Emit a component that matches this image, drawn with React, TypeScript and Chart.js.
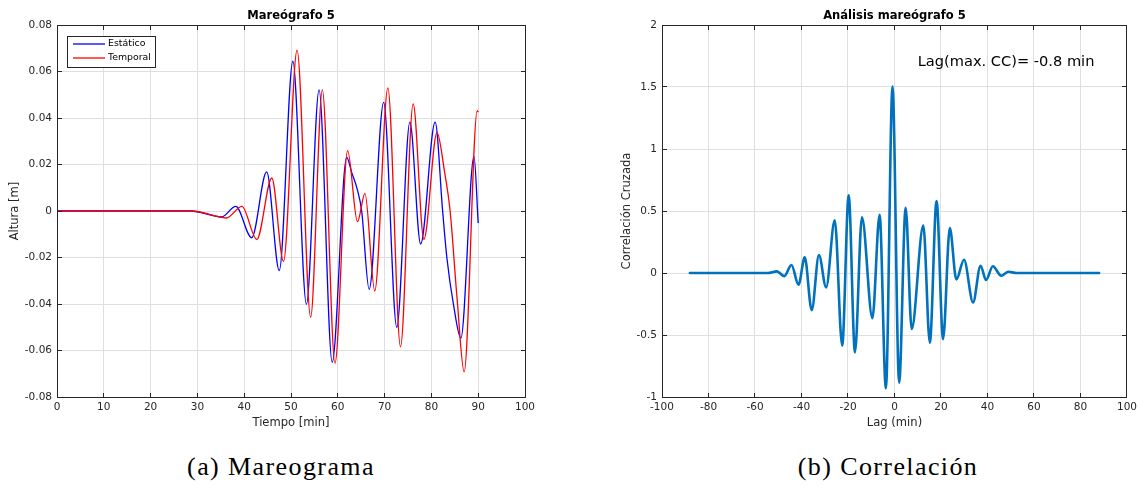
import React, { useEffect, useRef } from "react";
import { Chart, registerables } from "chart.js";

Chart.register(...registerables);

// ---------- Data ----------
// Left panel: Mareógrafo 5
const estaticoT = [0, 28.5, 35.2, 38.2, 41.6, 44.8, 47.5, 50.4, 53.3, 56.0, 58.8, 61.9, 63.0, 64.2, 65.1, 66.7, 69.8, 72.6, 75.4, 77.7, 80.8, 82.4, 83.3, 84.7, 86.3, 89.1, 90.0];
const estaticoV = [0, 0, -0.0025, 0.002, -0.0115, 0.0168, -0.0256, 0.0644, -0.0401, 0.0521, -0.0651, 0.0231, 0.0164, 0.009, 0.0, -0.0337, 0.0467, -0.05, 0.0382, -0.0142, 0.0382, 0.0, -0.02, -0.04, -0.0547, 0.0235, -0.0052];

const temporalT = [0, 29.0, 36.2, 39.5, 42.7, 45.9, 48.4, 51.3, 54.2, 56.7, 59.4, 62.1, 64.2, 65.8, 67.9, 70.7, 73.4, 76.1, 78.4, 81.2, 82.8, 84.0, 85.5, 87.0, 89.8, 90.0];
const temporalV = [0, 0, -0.003, 0.002, -0.0122, 0.0142, -0.0217, 0.0692, -0.0457, 0.0521, -0.0655, 0.026, -0.0046, 0.0076, -0.0344, 0.053, -0.0584, 0.0461, -0.0122, 0.0337, 0.017, 0.0, -0.038, -0.0692, 0.0432, 0.0425];

const seriesNames = ["Estático", "Temporal"];

// Right panel: Análisis mareógrafo 5 (cross-correlation)
const lagT = [-88, -54.5, -50.6, -47.4, -44.3, -41.3, -38.6, -35.6, -32.5, -29.4, -25.7, -22.5, -19.7, -17.0, -14.0, -9.5, -6.4, -3.7, -0.85, 2.0, 4.8, 7.4, 12.4, 15.2, 18.1, 20.9, 23.8, 26.6, 29.9, 33.8, 37.0, 39.4, 42.3, 45.9, 49.0, 52.5, 88];
const ccV = [0, 0, 0.013, -0.025, 0.065, -0.095, 0.126, -0.3, 0.145, -0.116, 0.425, -0.585, 0.627, -0.64, 0.45, -0.364, 0.47, -0.93, 1.505, -0.884, 0.525, -0.452, 0.382, -0.562, 0.58, -0.533, 0.363, -0.052, 0.107, -0.237, 0.059, -0.057, 0.054, -0.022, 0.01, 0, 0];

const noteText = "Lag(max. CC)= -0.8 min";
const noteAt = { x: 10, y: 1.7 };

const titles = ["Mareógrafo 5", "Análisis mareógrafo 5"];
const xTitles = ["Tiempo [min]", "Lag (min)"];
const yTitles = ["Altura [m]", "Correlación Cruzada"];
const captions = ["(a) Mareograma", "(b) Correlación"];

// ---------- Styling helpers ----------
const FONT = "'DejaVu Sans', sans-serif";
const AX = "#262626";
const GRID = "#dfdfdf";

const toXY = (xs: number[], ys: number[]) => xs.map((x, i) => ({ x, y: ys[i] }));

const al = (v: number) => Math.round(v - 0.5) + 0.5;

const framePlugin = {
  id: "matlabFrame",
  afterDraw(chart: any, _args: any, opts: any) {
    const { ctx, chartArea: a, scales } = chart;
    const xs = scales.x;
    const ys = scales.y;
    ctx.save();
    ctx.strokeStyle = AX;
    ctx.lineWidth = 1;
    const L = al(a.left), R = al(a.right), T = al(a.top), B = al(a.bottom);
    const tl = 4.5;
    ctx.beginPath();
    xs.ticks.forEach((t: any) => {
      const p = al(xs.getPixelForValue(t.value));
      ctx.moveTo(p, B); ctx.lineTo(p, B - tl);
      ctx.moveTo(p, T); ctx.lineTo(p, T + tl);
    });
    ys.ticks.forEach((t: any) => {
      const p = al(ys.getPixelForValue(t.value));
      ctx.moveTo(L, p); ctx.lineTo(L + tl, p);
      ctx.moveTo(R, p); ctx.lineTo(R - tl, p);
    });
    ctx.stroke();
    ctx.strokeRect(L, T, R - L, B - T);

    if (opts && opts.legend) {
      const bx = a.left + 10.7, by = a.top + 11, bw = 88, bh = 31;
      ctx.fillStyle = "#ffffff";
      ctx.fillRect(bx, by, bw, bh);
      ctx.strokeStyle = AX;
      ctx.lineWidth = 1;
      ctx.strokeRect(al(bx), al(by), bw, bh);
      chart.data.datasets.forEach((ds: any, i: number) => {
        const cy = by + 8 + i * 14;
        ctx.strokeStyle = ds.borderColor;
        ctx.lineWidth = 1.3;
        ctx.beginPath();
        ctx.moveTo(bx + 5.3, cy);
        ctx.lineTo(bx + 37.3, cy);
        ctx.stroke();
        ctx.fillStyle = "#000000";
        ctx.font = `9.4px ${FONT}`;
        ctx.textAlign = "left";
        ctx.textBaseline = "middle";
        ctx.fillText(ds.label, bx + 40.3, cy);
      });
    }
    if (opts && opts.note) {
      ctx.fillStyle = "#000000";
      ctx.font = `14.6px ${FONT}`;
      ctx.textAlign = "left";
      ctx.textBaseline = "middle";
      ctx.fillText(opts.note.text, xs.getPixelForValue(opts.note.x), ys.getPixelForValue(opts.note.y));
    }
    ctx.restore();
  },
};

const fmt = (v: number) => String(Number(v.toFixed(2)));

function makeOptions(p: {
  title: string; xTitle: string; yTitle: string;
  xMin: number; xMax: number; xStep: number;
  yMin: number; yMax: number; yStep: number;
  yAxisWidth: number; yTitlePad: number; padRight: number;
  frame: any;
}) {
  return {
    responsive: false,
    animation: false as const,
    devicePixelRatio: 1,
    layout: { padding: { left: 0, right: p.padRight, top: 0, bottom: 0 } },
    plugins: {
      legend: { display: false },
      tooltip: { enabled: false },
      title: {
        display: true,
        text: p.title,
        fullSize: false,
        color: "#000000",
        font: { family: FONT, size: 11.55, weight: "bold" as const, lineHeight: 1.2 },
        padding: { top: 8.6, bottom: 2.54 },
      },
      matlabFrame: p.frame,
    },
    scales: {
      x: {
        type: "linear" as const,
        min: p.xMin,
        max: p.xMax,
        afterFit: (s: any) => { s.height = 43; },
        ticks: {
          stepSize: p.xStep,
          color: AX,
          padding: 4,
          maxRotation: 0,
          autoSkip: false,
          font: { family: FONT, size: 10.5, lineHeight: 1.2 },
          callback: (v: any) => fmt(Number(v)),
        },
        grid: { color: GRID, lineWidth: 1, drawTicks: false },
        border: { display: false },
        title: {
          display: true,
          text: p.xTitle,
          color: AX,
          font: { family: FONT, size: 11.55, lineHeight: 1.2 },
          padding: { top: 0, bottom: 10.4 },
        },
      },
      y: {
        type: "linear" as const,
        min: p.yMin,
        max: p.yMax,
        afterFit: (s: any) => { s.width = p.yAxisWidth; },
        ticks: {
          stepSize: p.yStep,
          color: AX,
          padding: 5,
          autoSkip: false,
          font: { family: FONT, size: 10.5, lineHeight: 1.2 },
          callback: (v: any) => fmt(Number(v)),
        },
        grid: { color: GRID, lineWidth: 1, drawTicks: false },
        border: { display: false },
        title: {
          display: true,
          text: p.yTitle,
          color: AX,
          font: { family: FONT, size: 11.55, lineHeight: 1.2 },
          padding: { top: p.yTitlePad, bottom: 0 },
        },
      },
    },
  };
}

export default function App() {
  const leftRef = useRef<HTMLCanvasElement | null>(null);
  const rightRef = useRef<HTMLCanvasElement | null>(null);

  useEffect(() => {
    const c1 = new Chart(leftRef.current as HTMLCanvasElement, {
      type: "line",
      data: {
        datasets: [
          {
            label: seriesNames[0],
            data: toXY(estaticoT, estaticoV),
            borderColor: "#0000ff",
            borderWidth: 1.3,
            pointRadius: 0,
            fill: false,
            cubicInterpolationMode: "monotone",
            order: 2,
          },
          {
            label: seriesNames[1],
            data: toXY(temporalT, temporalV),
            borderColor: "#ff0000",
            borderWidth: 1.3,
            pointRadius: 0,
            fill: false,
            cubicInterpolationMode: "monotone",
            order: 1,
          },
        ],
      },
      options: makeOptions({
        title: titles[0], xTitle: xTitles[0], yTitle: yTitles[0],
        xMin: 0, xMax: 100, xStep: 10,
        yMin: -0.08, yMax: 0.08, yStep: 0.02,
        yAxisWidth: 57, yTitlePad: 8.1, padRight: 35,
        frame: { legend: true },
      }) as any,
      plugins: [framePlugin],
    });

    const c2 = new Chart(rightRef.current as HTMLCanvasElement, {
      type: "line",
      data: {
        datasets: [
          {
            label: "CC",
            data: toXY(lagT, ccV),
            borderColor: "#0072bd",
            borderWidth: 2.6,
            pointRadius: 0,
            fill: false,
            cubicInterpolationMode: "monotone",
            borderJoinStyle: "round",
            borderCapStyle: "round",
          },
        ],
      },
      options: makeOptions({
        title: titles[1], xTitle: xTitles[1], yTitle: yTitles[1],
        xMin: -100, xMax: 100, xStep: 20,
        yMin: -1, yMax: 2, yStep: 0.5,
        yAxisWidth: 62, yTitlePad: 19.8, padRight: 11,
        frame: { note: { text: noteText, x: noteAt.x, y: noteAt.y } },
      }) as any,
      plugins: [framePlugin],
    });

    return () => {
      c1.destroy();
      c2.destroy();
    };
  }, []);

  const capStyle = (center: number): React.CSSProperties => ({
    position: "absolute",
    left: center - 150,
    width: 300,
    top: 454,
    textAlign: "center",
    fontFamily: "'Liberation Serif', serif",
    fontSize: 26,
    lineHeight: "26px",
    letterSpacing: "1.4px",
    color: "#000",
    whiteSpace: "nowrap",
  });

  return (
    <div style={{ position: "fixed", left: 0, top: 0, width: 1141, height: 487, background: "#ffffff", overflow: "hidden" }}>
      <canvas ref={leftRef} width={560} height={440} style={{ position: "absolute", left: 0, top: 0 }} />
      <canvas ref={rightRef} width={541} height={440} style={{ position: "absolute", left: 600, top: 0 }} />
      <div style={capStyle(281)}>{captions[0]}</div>
      <div style={capStyle(888)}>{captions[1]}</div>
    </div>
  );
}
